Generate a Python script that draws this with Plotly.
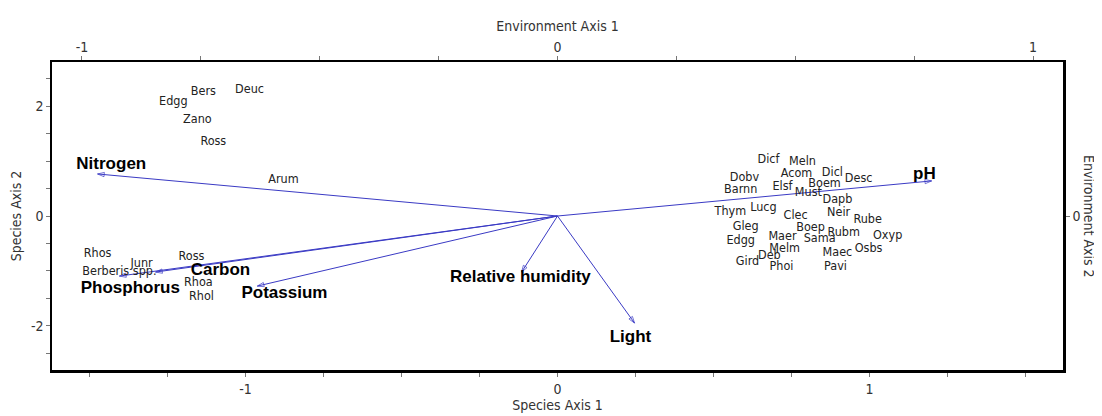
import plotly.graph_objects as go

# -----------------------------------------
# DATA (species scores, environment biplot arrows)
# -----------------------------------------
species = ["Bers", "Deuc", "Edgg", "Zano", "Ross", "Arum",
           "Rhos", "Junr", "Berberis spp.", "Ross", "Rhoa", "Rhol",
           "Dicf", "Meln", "Dobv", "Acom", "Dicl", "Desc", "Barnn", "Elsf",
           "Boem", "Must", "Dapb", "Thym", "Lucg", "Clec", "Neir", "Rube",
           "Gleg", "Boep", "Rubm", "Oxyp", "Edgg", "Maer", "Sama", "Melm",
           "Osbs", "Deb", "Maec", "Gird", "Phoi", "Pavi"]
sp_x = [-1.135, -0.987, -1.231, -1.154, -1.103, -0.878,
        -1.474, -1.333, -1.404, -1.173, -1.151, -1.141,
        0.676, 0.785, 0.599, 0.766, 0.881, 0.965, 0.587, 0.721,
        0.856, 0.804, 0.897, 0.554, 0.660, 0.763, 0.901, 0.994,
        0.603, 0.811, 0.917, 1.058, 0.587, 0.721, 0.840, 0.728,
        0.997, 0.679, 0.897, 0.609, 0.718, 0.891]
sp_y = [2.265, 2.301, 2.082, 1.753, 1.352, 0.658,
        -0.694, -0.877, -1.023, -0.749, -1.224, -1.479,
        1.023, 0.986, 0.694, 0.767, 0.785, 0.676, 0.475, 0.530,
        0.584, 0.420, 0.292, 0.073, 0.146, 0.000, 0.055, -0.073,
        -0.201, -0.219, -0.311, -0.365, -0.457, -0.384, -0.420, -0.603,
        -0.603, -0.731, -0.676, -0.840, -0.932, -0.932]

env_vars = ["Nitrogen", "pH", "Carbon", "Phosphorus", "Potassium",
            "Relative humidity", "Light"]
env_x = [-1.474, 1.199, -1.288, -1.404, -0.962, -0.115, 0.247]
env_y = [0.767, 0.640, -1.023, -1.096, -1.279, -1.023, -1.954]
# where each variable name sits
env_lab_x = [-1.43, 1.176, -1.08, -1.369, -0.875, -0.119, 0.234]
env_lab_y = [0.93, 0.75, -0.99, -1.333, -1.42, -1.13, -2.23]

NARROW = "DejaVu Sans Condensed, Liberation Sans Narrow, Arial Narrow, sans-serif"
ARROW_COL = "#3a3ac4"

fig = go.Figure()

# arrows from the origin
for name, ex, ey in zip(env_vars, env_x, env_y):
    fig.add_trace(go.Scatter(
        x=[0, ex], y=[0, ey],
        mode="lines+markers",
        line=dict(color=ARROW_COL, width=1),
        marker=dict(symbol="arrow-open", size=[0, 7], angleref="previous",
                    color=ARROW_COL, line=dict(width=1, color=ARROW_COL)),
        hoverinfo="skip", showlegend=False,
    ))

# species labels
fig.add_trace(go.Scatter(
    x=sp_x, y=sp_y, mode="text", text=species,
    textfont=dict(family=NARROW, size=12.5, color="#222222"),
    hovertemplate="%{text}<extra></extra>", showlegend=False,
))

# environment variable names
fig.add_trace(go.Scatter(
    x=env_lab_x, y=env_lab_y, mode="text", text=env_vars,
    textfont=dict(family="Liberation Sans, Arial", size=17, color="black", weight="bold"),
    hoverinfo="skip", showlegend=False,
))

# invisible trace so the top / right axes are drawn
fig.add_trace(go.Scatter(x=[0], y=[0], xaxis="x2", yaxis="y2", mode="markers",
                         marker=dict(opacity=0), hoverinfo="skip", showlegend=False))

tickfont = dict(family=NARROW, size=14, color="#333333")
titlefont = dict(family=NARROW, size=14, color="#333333")
minor_x = dict(dtick=0.25, tick0=0, ticks="outside", ticklen=4, tickcolor="#777777")

# page body adds 8px on the left / top, so the figure is 8px smaller
fig.update_layout(
    width=1094, height=408,
    margin=dict(l=44, r=39, t=54, b=46),
    paper_bgcolor="white", plot_bgcolor="white",
    xaxis=dict(range=[-1.62, 1.62], tickvals=[-1, 0, 1], ticktext=["-1", "0", "1"],
               ticks="outside", ticklen=4, tickcolor="#777777", minor=minor_x,
               showline=True, linewidth=2.5, linecolor="black", automargin=False,
               showgrid=False, zeroline=False, tickfont=tickfont,
               title=dict(text="Species Axis 1", font=titlefont, standoff=2)),
    xaxis2=dict(overlaying="x", side="top", anchor="y2", range=[-1.063, 1.063],
                tickvals=[-1, 0, 1], ticktext=["-1", "0", "1"],
                ticks="outside", ticklen=3, tickcolor="#777777", minor=minor_x,
                showline=True, linewidth=1.5, linecolor="black", automargin=False,
                showgrid=False, zeroline=False, tickfont=tickfont,
                title=dict(text="Environment Axis 1", font=titlefont, standoff=4)),
    yaxis=dict(range=[-2.81, 2.81], tickvals=[-2, 0, 2], ticktext=["-2", "0", "2"],
               ticks="outside", ticklen=4, tickcolor="#777777",
               minor=dict(dtick=0.5, tick0=0, ticks="outside", ticklen=4, tickcolor="#777777"),
               showline=True, linewidth=1.5, linecolor="black", automargin=False,
               showgrid=False, zeroline=False, tickfont=tickfont,
               title=dict(text="Species Axis 2", font=titlefont, standoff=8)),
    yaxis2=dict(overlaying="y", side="right", anchor="x2", range=[-0.95, 0.95],
                tickvals=[0], ticktext=["0"], ticks="outside", ticklen=4, tickcolor="#777777",
                showline=True, linewidth=2.5, linecolor="black", automargin=False,
                showgrid=False, zeroline=False, tickfont=tickfont),
)

# right axis title reads top to bottom
fig.add_annotation(
    text="Environment Axis 2", xref="paper", yref="paper", x=1.0, y=0.5,
    xanchor="center", yanchor="middle", borderpad=0,
    xshift=26, textangle=90, showarrow=False, font=titlefont,
)

fig.write_html("out.html")
